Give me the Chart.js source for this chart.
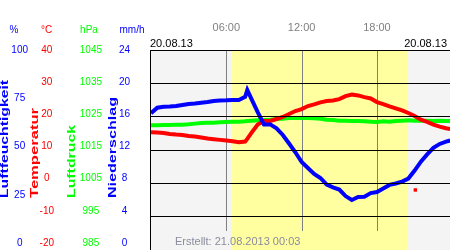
<!DOCTYPE html>
<html>
<head>
<meta charset="utf-8">
<script src="https://cdn.jsdelivr.net/npm/chart.js@4/dist/chart.umd.min.js"></script>
<style>
  html, body { margin: 0; padding: 0; background: #fff; }
  canvas { display: block; }
</style>
</head>
<body>
<canvas id="chart" width="450" height="250"></canvas>
<script>
// hours of the day (20.08.13)
var hours = [0, 0.5, 1, 1.5, 2, 2.5, 3, 3.5, 4, 4.5, 5, 5.5, 6, 6.5, 7, 7.5, 7.67, 8, 8.5, 9, 9.5,
  10, 10.5, 11, 11.5, 12, 12.5, 13, 13.5, 14, 14.5, 15, 15.5, 16, 16.5, 17, 17.5, 18, 18.5,
  19, 19.5, 20, 20.5, 21, 21.5, 22, 22.5, 23, 23.5, 23.83]
var humidity = [68.2, 71.0, 71.5, 71.6, 71.9, 72.4, 72.9, 73.1, 73.5, 73.9, 74.4, 74.6, 74.7, 74.9, 74.9, 76.5, 79.9, 75.4, 68.8, 62.6, 62.6,
  60.6, 57.3, 53.0, 48.6, 43.7, 40.7, 37.7, 35.7, 32.4, 31.0, 29.9, 26.6, 24.6, 26.1, 26.3, 28.1, 28.6, 30.4,
  32.2, 32.9, 33.9, 35.4, 39.4, 43.9, 47.5, 50.8, 52.8, 54.0, 54.5]
var temperature = [15.2, 15.1, 15.0, 14.7, 14.5, 14.4, 14.1, 13.9, 13.6, 13.3, 13.1, 12.9, 12.7, 12.5, 12.2, 12.4, 13.2, 15.0, 17.5, 18.6, 18.6,
  19.2, 19.8, 20.7, 21.6, 22.2, 23.1, 23.6, 24.2, 24.6, 24.8, 25.2, 26.1, 26.6, 26.3, 25.8, 25.4, 24.3, 23.7,
  23.0, 22.4, 21.8, 21.0, 20.1, 19.0, 18.3, 17.5, 16.9, 16.4, 16.2]
var pressure = [1022.3, 1022.3, 1022.4, 1022.4, 1022.5, 1022.5, 1022.6, 1022.8, 1023.0, 1023.1, 1023.1, 1023.2, 1023.3, 1023.4, 1023.4, 1023.5, 1023.6, 1023.7, 1023.8, 1023.9, 1024.0,
  1024.2, 1024.3, 1024.5, 1024.5, 1024.5, 1024.5, 1024.4, 1024.3, 1024.0, 1023.9, 1023.7, 1023.7, 1023.6, 1023.6, 1023.5, 1023.4, 1023.3, 1023.5,
  1023.4, 1023.6, 1023.7, 1023.8, 1023.7, 1023.7, 1023.7, 1023.6, 1023.7, 1023.6, 1023.6]
var strayHours = [21.06]
var strayTemperature = [-2.2]

var humTicks = [0, 25, 50, 75, 100]
var tempTicks = [-20, -10, 0, 10, 20, 30, 40]
var presTicks = [985, 995, 1005, 1015, 1025, 1035, 1045]
var rainTicks = [0, 4, 8, 12, 16, 20, 24]
var timeTicks = [6, 12, 18]
var sunrise = 6.37
var sunset = 20.48
var dateLabel = '20.08.13'
var createdLabel = 'Erstellt: 21.08.2013 00:03'

var BLUE = '#0000ff', RED = '#ff0000', GREEN = '#00ff00'
var FONT = '"Liberation Sans", Arial, sans-serif'
Chart.defaults.font.family = FONT

function pts(xs, ys) {
  return ys.map(function(v, i) { return { x: xs[i], y: v } })
}

// axis that only shows tick labels, range stretched so labels sit a bit above the grid
function labelAxis(ticks, color, weight, width, pad) {
  var lo = ticks[0], hi = ticks[ticks.length - 1]
  return {
    position: 'left',
    weight: weight,
    min: lo - (hi - lo) * 6 / 193,
    max: hi,
    grid: { display: false, drawTicks: false },
    border: { display: false },
    ticks: {
      color: color, font: { size: 10 }, padding: pad, crossAlign: 'center', autoSkip: false,
      callback: function(v) { return String(v) },
    },
    afterBuildTicks: function(s) { s.ticks = ticks.map(function(v) { return { value: v } }) },
    afterFit: function(s) { s.width = width; s.paddingTop = 0; s.paddingBottom = 0 },
  }
}

function dataAxis(ticks) {
  return { display: false, min: ticks[0], max: ticks[ticks.length - 1] }
}

var backdrop = {
  id: 'backdrop',
  beforeDatasetsDraw: function(chart) {
    var a = chart.chartArea, c = chart.ctx, x = chart.scales.x
    c.save()
    c.fillStyle = '#f4f4f4'
    c.fillRect(a.left, a.top, a.right - a.left, a.bottom - a.top + 1)
    var x0 = x.getPixelForValue(sunrise), x1 = x.getPixelForValue(sunset)
    c.fillStyle = '#ffffa0'
    c.fillRect(x0, a.top, x1 - x0, a.bottom - a.top + 1)
    c.strokeStyle = '#808080'
    c.lineWidth = 1
    timeTicks.forEach(function(t) {
      var px = Math.round(x.getPixelForValue(t)) + 0.5
      c.beginPath(); c.moveTo(px, a.top); c.lineTo(px, a.bottom - 18); c.stroke()
    })
    c.restore()
  },
  afterDatasetsDraw: function(chart) {
    var a = chart.chartArea, c = chart.ctx, yT = chart.scales.yT
    c.save()
    c.strokeStyle = '#000'
    c.lineWidth = 1
    tempTicks.forEach(function(t) {
      if (t === tempTicks[0]) return
      var py = Math.round(yT.getPixelForValue(t)) + 0.5
      c.beginPath(); c.moveTo(a.left, py); c.lineTo(a.right, py); c.stroke()
    })
    c.beginPath(); c.moveTo(a.left - 0.5, a.top); c.lineTo(a.left - 0.5, a.bottom + 1); c.stroke()
    c.restore()
  },
  afterDraw: function(chart) {
    var a = chart.chartArea, c = chart.ctx
    c.save()
    c.font = '11px ' + FONT
    c.fillStyle = '#000'
    c.textBaseline = 'alphabetic'
    c.textAlign = 'left'
    c.fillText(dateLabel, a.left - 1, 47)
    c.textAlign = 'right'
    c.fillText(dateLabel, 447, 47)
    c.fillStyle = '#8a8c9c'
    c.textAlign = 'left'
    c.fillText(createdLabel, 175, 245)

    c.font = '10px ' + FONT
    c.textAlign = 'center'
    c.textBaseline = 'middle'
    ;[['%', 14, BLUE], ['°C', 46.5, RED], ['hPa', 89, GREEN], ['mm/h', 132, BLUE]].forEach(function(u) {
      c.fillStyle = u[2]
      c.fillText(u[0], u[1], 30)
    })

    c.font = 'bold 10px ' + FONT
    c.textAlign = 'left'
    ;[['Luftfeuchtigkeit', 5.5, 118, BLUE], ['Temperatur', 35.5, 90, RED],
      ['Luftdruck', 72.5, 73, GREEN], ['Niederschlag', 113.7, 101, BLUE]].forEach(function(t) {
      var w = c.measureText(t[0]).width
      c.save()
      c.translate(t[1], 198)
      c.rotate(-Math.PI / 2)
      c.scale(t[2] / w, 1)
      c.fillStyle = t[3]
      c.fillText(t[0], 0, 0)
      c.restore()
    })
    c.restore()
  },
}

var chart = new Chart(document.getElementById('chart').getContext('2d'), {
  type: 'line',
  data: {
    datasets: [
      { label: 'Luftfeuchtigkeit', data: pts(hours, humidity), yAxisID: 'yH', borderColor: BLUE, borderWidth: 4, pointRadius: 0, tension: 0 },
      { label: 'Temperatur', data: pts(hours, temperature), yAxisID: 'yT', borderColor: RED, borderWidth: 4, pointRadius: 0, tension: 0 },
      { label: 'Luftdruck', data: pts(hours, pressure), yAxisID: 'yP', borderColor: GREEN, borderWidth: 4, pointRadius: 0, tension: 0 },
      { label: 'Temperatur (Einzelwert)', data: pts(strayHours, strayTemperature), yAxisID: 'yT', showLine: false,
        pointStyle: 'rect', pointRadius: 2.4, pointBorderWidth: 0, backgroundColor: RED, borderColor: RED },
    ],
  },
  options: {
    responsive: false,
    animation: false,
    layout: { autoPadding: false, padding: { top: 0, left: 0, right: 0, bottom: 1 } },
    plugins: { legend: { display: false }, tooltip: { enabled: false } },
    scales: {
      x: {
        type: 'linear',
        position: 'top',
        min: 0,
        max: 23.82,
        grid: { display: false, drawTicks: false },
        border: { display: false },
        ticks: {
          color: '#808080', font: { size: 11 }, padding: 15, autoSkip: false, maxRotation: 0,
          callback: function(v) { return (v < 10 ? '0' : '') + v + ':00' },
        },
        afterBuildTicks: function(s) { s.ticks = timeTicks.map(function(v) { return { value: v } }) },
        afterFit: function(s) { s.height = 50; s.paddingLeft = 0; s.paddingRight = 0 },
      },
      yH: dataAxis(humTicks),
      yT: dataAxis(tempTicks),
      yP: dataAxis(presTicks),
      lH: labelAxis(humTicks, BLUE, 4, 30, 2),
      lT: labelAxis(tempTicks, RED, 3, 30, 6),
      lP: labelAxis(presTicks, GREEN, 2, 45, 3),
      lR: labelAxis(rainTicks, BLUE, 1, 46, 21),
    },
  },
  plugins: [backdrop],
})
</script>
</body>
</html>
